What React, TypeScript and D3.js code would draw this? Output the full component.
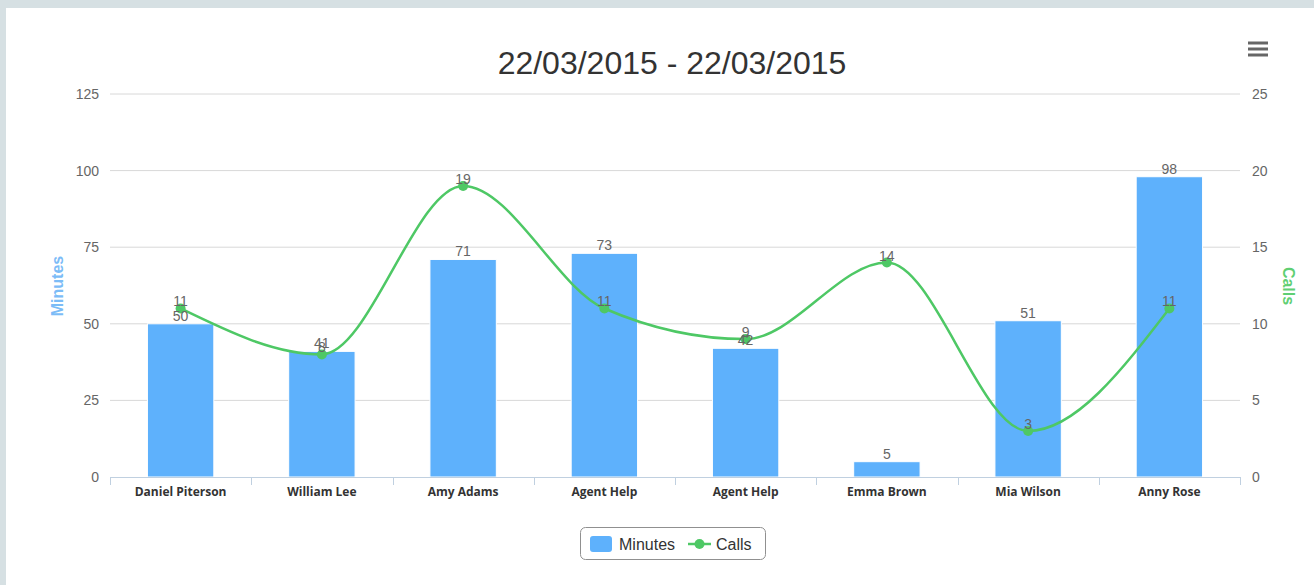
import React from 'react';
import * as d3 from 'd3';

// chart data
const agents = ['Daniel Piterson', 'William Lee', 'Amy Adams', 'Agent Help', 'Agent Help', 'Emma Brown', 'Mia Wilson', 'Anny Rose'];
const minutes = [50, 41, 71, 73, 42, 5, 51, 98];
const calls = [11, 8, 19, 11, 9, 14, 3, 11];
const minuteTicks = [0, 25, 50, 75, 100, 125];
const callTicks = [0, 5, 10, 15, 20, 25];

const W = 1314;
const H = 585;
const left = 110;
const right = 1240;
const top = 94;
const bottom = 477;

const barColor = '#5eb1fc';
const lineColor = '#4ec865';
const font = '"Liberation Sans", Arial, sans-serif';

export default function App() {
    const idx = agents.map((_, i) => i);
    const x = d3.scaleBand<number>().domain(idx).range([left, right]).paddingInner(0.53).paddingOuter(0.265);
    const band = d3.scaleBand<number>().domain(idx).range([left, right]);
    const yMin = d3.scaleLinear().domain([0, 125]).range([bottom, top]);
    const yCall = d3.scaleLinear().domain([0, 25]).range([bottom, top]);
    const cx = (i: number) => band(i)! + band.bandwidth() / 2;

    const line = d3.line<number>()
        .x((_, i) => cx(i))
        .y(d => yCall(d))
        .curve(d3.curveMonotoneX);

    const labelStyle = { fontFamily: font, fontSize: 14, fill: '#666' };
    const tickStyle = { fontFamily: font, fontSize: 14, fill: '#666' };

    return (
        <svg width={W} height={H} style={{ position: 'absolute', left: 0, top: 0 }}>
            <rect x={0} y={0} width={W} height={H} fill="#d6e0e3" />
            <rect x={6} y={8} width={W - 6} height={H - 8} fill="white" />

            <text x={672} y={74} textAnchor="middle" style={{ fontFamily: font, fontSize: 32, fill: '#333' }}>
                22/03/2015 - 22/03/2015
            </text>

            {/* menu icon */}
            {[43, 49, 55].map(yy => (
                <line key={yy} x1={1248} x2={1268} y1={yy} y2={yy} stroke="#666" strokeWidth={3} />
            ))}

            {/* grid */}
            {minuteTicks.filter(t => t > 0).map(t => (
                <line key={t} x1={left} x2={right} y1={yMin(t)} y2={yMin(t)} stroke="#d8d8d8" strokeWidth={1} />
            ))}

            {/* axis tick labels */}
            {minuteTicks.map(t => (
                <text key={t} x={99} y={yMin(t) + 5} textAnchor="end" style={tickStyle}>{t}</text>
            ))}
            {callTicks.map(t => (
                <text key={t} x={1252} y={yCall(t) + 5} textAnchor="start" style={tickStyle}>{t}</text>
            ))}

            <text transform="translate(63,286) rotate(-90)" textAnchor="middle"
                style={{ fontFamily: font, fontSize: 16, fontWeight: 'bold', fill: '#7cbcf7' }}>Minutes</text>
            <text transform="translate(1283,286) rotate(90)" textAnchor="middle"
                style={{ fontFamily: font, fontSize: 16, fontWeight: 'bold', fill: '#5fcf73' }}>Calls</text>

            {/* bars */}
            {minutes.map((m, i) => (
                <rect key={i} x={x(i)} y={yMin(m)} width={x.bandwidth()} height={bottom - yMin(m)}
                    fill={barColor} stroke="white" strokeWidth={1} />
            ))}

            {/* x axis */}
            <line x1={left} x2={right} y1={bottom + 0.5} y2={bottom + 0.5} stroke="#c0d0e0" />
            {d3.range(agents.length + 1).map(i => {
                const xx = Math.round(left + i * band.bandwidth()) + 0.5;
                return <line key={i} x1={xx} x2={xx} y1={bottom} y2={bottom + 8} stroke="#c0d0e0" />;
            })}
            {agents.map((a, i) => (
                <text key={i} x={cx(i)} y={496} textAnchor="middle"
                    style={{ fontFamily: '"Open Sans", sans-serif', fontSize: 12, fontWeight: 'bold', fill: '#333' }}>{a}</text>
            ))}

            {/* line */}
            <path d={line(calls) || ''} fill="none" stroke={lineColor} strokeWidth={2.5} />
            {calls.map((c, i) => (
                <circle key={i} cx={cx(i)} cy={yCall(c)} r={5} fill={lineColor} />
            ))}

            {/* data labels */}
            {minutes.map((m, i) => (
                <text key={i} x={cx(i)} y={yMin(m) - 3} textAnchor="middle" style={labelStyle}>{m}</text>
            ))}
            {calls.map((c, i) => (
                <text key={i} x={cx(i)} y={yCall(c) - 2} textAnchor="middle" style={labelStyle}>{c}</text>
            ))}

            {/* legend */}
            <rect x={580.5} y={527.5} width={185} height={32} rx={5} fill="white" stroke="#909090" />
            <rect x={590} y={536} width={22} height={16} rx={3} fill={barColor} />
            <text x={619} y={550} style={{ fontFamily: font, fontSize: 16, fill: '#333' }}>Minutes</text>
            <line x1={688} x2={711} y1={544} y2={544} stroke={lineColor} strokeWidth={2.5} />
            <circle cx={699.5} cy={544} r={5} fill={lineColor} />
            <text x={716} y={550} style={{ fontFamily: font, fontSize: 16, fill: '#333' }}>Calls</text>
        </svg>
    );
}
